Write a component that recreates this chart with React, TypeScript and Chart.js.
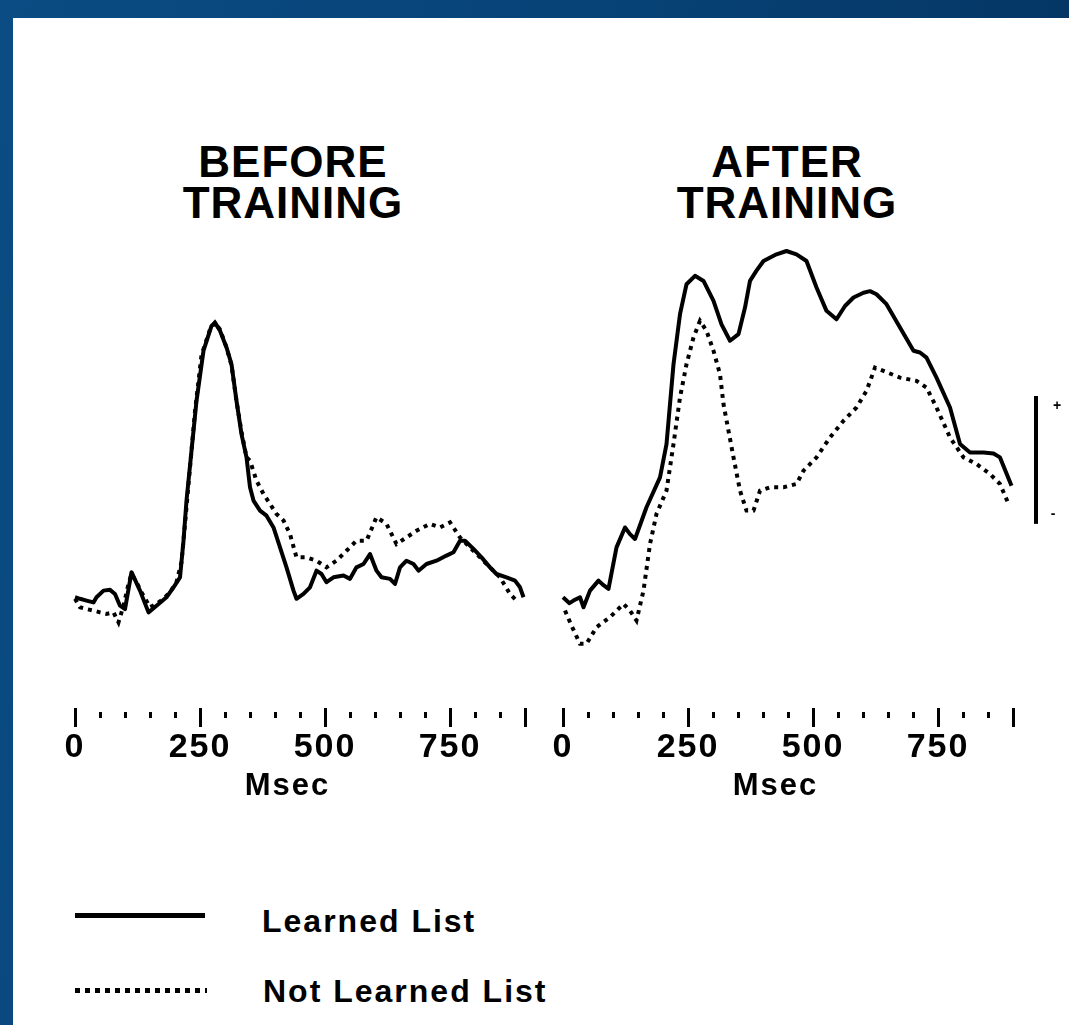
import React, { useEffect, useRef } from 'react';
import { Chart, registerables } from 'chart.js';

Chart.register(...registerables);

// ---- Data (time in ms, amplitude in µV; scale bar = 5 µV, positive up) ----
const tickTimes = [0, 50, 100, 150, 200, 250, 300, 350, 400, 450, 500, 550, 600, 650, 700, 750, 800, 850, 900];
const labeledTimes = [0, 250, 500, 750];
const majorTimes = [0, 250, 500, 750, 900];
const panelTitles = ['BEFORE\nTRAINING', 'AFTER\nTRAINING'];
const seriesLabels = ['Learned List', 'Not Learned List'];
const axisTitle = 'Msec';
const ampMin = -4.2;
const ampMax = 14.1;
const scaleBarRange = [3, 8];

const beforeLearned: [number, number][] = [
  [0, 0.13], [10, 0.07], [23, 0.0], [37, -0.07], [43, 0.13], [57, 0.39], [70, 0.42], [80, 0.26],
  [90, -0.2], [100, -0.33], [113, 1.11], [130, 0.39], [147, -0.46], [163, -0.2], [183, 0.13],
  [197, 0.52], [210, 0.91], [217, 2.34], [223, 3.91], [233, 5.86], [243, 7.81], [257, 9.77],
  [273, 10.74], [280, 10.87], [290, 10.55], [303, 9.9], [313, 9.24], [323, 7.81], [333, 6.51],
  [343, 5.6], [350, 4.43], [357, 3.91], [370, 3.52], [383, 3.32], [397, 2.86], [410, 2.08],
  [423, 1.3], [437, 0.39], [443, 0.07], [457, 0.26], [470, 0.52], [483, 1.17], [493, 1.04],
  [503, 0.72], [517, 0.91], [537, 0.98], [550, 0.85], [563, 1.3], [577, 1.43], [590, 1.82],
  [603, 1.17], [613, 0.91], [630, 0.85], [640, 0.65], [650, 1.3], [663, 1.56], [677, 1.43],
  [687, 1.17], [703, 1.43], [723, 1.56], [743, 1.76], [757, 1.89], [770, 2.34], [780, 2.34],
  [797, 2.02], [813, 1.69], [830, 1.3], [843, 1.04], [863, 0.91], [880, 0.78], [890, 0.52], [897, 0.13],
];

const beforeNotLearned: [number, number][] = [
  [0, 0.07], [10, -0.26], [23, -0.33], [37, -0.39], [50, -0.46], [63, -0.52], [77, -0.46], [87, -0.85],
  [97, -0.2], [107, 0.65], [113, 1.04], [123, 0.72], [133, 0.33], [150, -0.26], [163, -0.13],
  [177, 0.07], [190, 0.33], [203, 0.72], [213, 1.5], [220, 3.0], [230, 5.2], [240, 7.4], [253, 9.6],
  [270, 10.6], [280, 10.87], [290, 10.6], [303, 9.9], [313, 9.2], [323, 7.8], [333, 6.6], [343, 5.6],
  [350, 5.47], [363, 4.69], [377, 4.17], [390, 3.78], [403, 3.39], [417, 3.13], [430, 2.6],
  [443, 1.69], [463, 1.69], [483, 1.56], [503, 1.3], [523, 1.56], [543, 1.95], [563, 2.34],
  [583, 2.34], [603, 3.26], [623, 3.0], [643, 2.21], [663, 2.47], [683, 2.73], [710, 3.0],
  [730, 2.86], [750, 3.06], [770, 2.47], [790, 2.08], [810, 1.69], [830, 1.3], [850, 0.91],
  [870, 0.26], [883, 0.0],
];

const afterLearned: [number, number][] = [
  [0, 0.13], [13, -0.1], [21, 0.0], [34, 0.13], [41, -0.26], [54, 0.39], [71, 0.78], [81, 0.6],
  [91, 0.46], [107, 2.08], [124, 2.86], [134, 2.6], [144, 2.41], [167, 3.65], [194, 4.82],
  [207, 6.12], [221, 9.24], [234, 11.2], [247, 12.37], [264, 12.7], [281, 12.5], [301, 11.72],
  [317, 10.8], [334, 10.16], [351, 10.42], [364, 11.46], [374, 12.5], [387, 12.9], [401, 13.28],
  [427, 13.54], [447, 13.67], [467, 13.54], [487, 13.28], [507, 12.24], [527, 11.33], [547, 11.0],
  [564, 11.52], [581, 11.85], [601, 12.04], [614, 12.1], [627, 11.98], [647, 11.59], [674, 10.68],
  [701, 9.77], [714, 9.7], [727, 9.5], [747, 8.72], [774, 7.55], [794, 6.12], [814, 5.79],
  [841, 5.79], [861, 5.75], [874, 5.6], [897, 4.49],
];

const afterNotLearned: [number, number][] = [
  [4, -0.39], [17, -0.98], [34, -1.69], [47, -1.69], [67, -1.04], [94, -0.65], [121, -0.13],
  [134, -0.39], [147, -0.78], [161, 0.39], [174, 2.21], [187, 3.39], [207, 4.3], [221, 6.12],
  [234, 7.94], [247, 9.24], [261, 10.29], [274, 10.94], [287, 10.55], [301, 9.77], [314, 8.85],
  [321, 7.68], [331, 6.64], [341, 5.6], [354, 4.3], [367, 3.52], [381, 3.52], [394, 4.3],
  [414, 4.43], [441, 4.43], [467, 4.56], [481, 5.08], [507, 5.6], [534, 6.38], [561, 7.03],
  [587, 7.55], [607, 8.2], [624, 9.11], [641, 8.98], [674, 8.72], [707, 8.59], [727, 8.33],
  [747, 7.55], [774, 6.38], [801, 5.6], [827, 5.34], [854, 4.95], [874, 4.56], [891, 3.78],
];

const FONT = '"Liberation Sans", Arial, Helvetica, sans-serif';

const spacingPlugin = {
  id: 'letterSpacing',
  beforeDraw(chart: any) {
    try {
      chart.ctx.letterSpacing = '2px';
    } catch (e) {}
  },
};

const scaleBarPlugin = {
  id: 'scaleBar',
  afterDraw(chart: any) {
    const opts = chart.options.plugins.scaleBar;
    if (!opts || !opts.show) return;
    const { ctx, chartArea, scales } = chart;
    const x = chartArea.right + 23;
    const yTop = scales.y.getPixelForValue(scaleBarRange[1]);
    const yBot = scales.y.getPixelForValue(scaleBarRange[0]);
    ctx.save();
    ctx.strokeStyle = '#000';
    ctx.lineWidth = 4;
    ctx.beginPath();
    ctx.moveTo(x, yTop);
    ctx.lineTo(x, yBot);
    ctx.stroke();
    ctx.fillStyle = '#000';
    ctx.font = `bold 14px ${FONT}`;
    ctx.textAlign = 'center';
    ctx.textBaseline = 'middle';
    ctx.fillText('+', x + 22, yTop + 10);
    ctx.fillText('-', x + 18, yBot - 10);
    ctx.restore();
  },
};

function toPoints(arr: [number, number][]) {
  return arr.map(([x, y]) => ({ x, y }));
}

function Panel(props: {
  learned: [number, number][];
  notLearned: [number, number][];
  left: number;
  width: number;
  padRight: number;
  showScaleBar: boolean;
}) {
  const ref = useRef<HTMLCanvasElement | null>(null);
  useEffect(() => {
    if (!ref.current) return;
    const chart = new Chart(ref.current, {
      type: 'line',
      data: {
        datasets: [
          {
            label: seriesLabels[0],
            data: toPoints(props.learned),
            borderColor: '#000',
            borderWidth: 4,
            pointRadius: 0,
            tension: 0,
            borderJoinStyle: 'round',
            clip: false as any,
          },
          {
            label: seriesLabels[1],
            data: toPoints(props.notLearned),
            borderColor: '#000',
            borderWidth: 4,
            borderDash: [4, 5],
            borderCapStyle: 'butt',
            pointRadius: 0,
            tension: 0,
            clip: false as any,
          },
        ],
      },
      options: {
        animation: false,
        responsive: false,
        events: [],
        layout: { padding: { top: 10, right: props.padRight, bottom: 5, left: 0 } },
        plugins: {
          legend: { display: false },
          tooltip: { enabled: false },
          scaleBar: { show: props.showScaleBar },
        } as any,
        scales: {
          x: {
            type: 'linear',
            min: -50,
            max: 900,
            afterBuildTicks: (scale: any) => {
              scale.ticks = tickTimes.map((v) => ({ value: v }));
            },
            border: { display: false },
            grid: {
              display: true,
              drawOnChartArea: false,
              drawTicks: true,
              tickLength: 19,
              tickWidth: 3,
              tickColor: '#000',
              tickBorderDash: (ctx: any) =>
                majorTimes.includes(ctx.tick?.value) ? [] : [0, 4, 6, 100],
            } as any,
            ticks: {
              autoSkip: false,
              maxRotation: 0,
              padding: 0,
              color: '#000',
              font: { family: FONT, size: 34, weight: 'bold', lineHeight: 1.2 },
              callback: (v: any) => (labeledTimes.includes(Number(v)) ? String(v) : ''),
            },
            title: {
              display: true,
              text: axisTitle,
              color: '#000',
              padding: 0,
              font: { family: FONT, size: 31, weight: 'bold', lineHeight: 1.2 },
            },
          },
          y: {
            display: false,
            min: ampMin,
            max: ampMax,
          },
        },
      },
      plugins: [spacingPlugin, scaleBarPlugin],
    });
    return () => chart.destroy();
  }, []);
  return (
    <canvas
      ref={ref}
      width={props.width}
      height={580}
      style={{ position: 'absolute', left: props.left, top: 230, width: props.width, height: 580 }}
    />
  );
}

function Title({ text, center }: { text: string; center: number }) {
  return (
    <div
      style={{
        position: 'absolute',
        left: center - 160,
        width: 320,
        top: 141,
        textAlign: 'center',
        font: `bold 44px/41px ${FONT}`,
        letterSpacing: '1px',
        whiteSpace: 'pre',
        color: '#000',
      }}
    >
      {text}
    </div>
  );
}

export default function App() {
  return (
    <div
      style={{
        position: 'absolute',
        left: 0,
        top: 0,
        width: 1069,
        height: 1025,
        overflow: 'hidden',
        background: 'linear-gradient(100deg, #0a4c83 0%, #074276 50%, #04325e 100%)',
        fontFamily: FONT,
      }}
    >
      <div style={{ position: 'absolute', left: 13, top: 18, right: 0, bottom: 0, background: '#fff' }} />
      <Title text={panelTitles[0]} center={293} />
      <Title text={panelTitles[1]} center={787} />
      <Panel learned={beforeLearned} notLearned={beforeNotLearned} left={50} width={480} padRight={5} showScaleBar={false} />
      <Panel learned={afterLearned} notLearned={afterNotLearned} left={538} width={531} padRight={56} showScaleBar={true} />
      {/* Legend */}
      <div style={{ position: 'absolute', left: 75, top: 913, width: 130, height: 5, background: '#000' }} />
      <div
        style={{
          position: 'absolute',
          left: 75,
          top: 988,
          width: 132,
          height: 5,
          background: 'repeating-linear-gradient(to right, #000 0px, #000 5px, transparent 5px, transparent 10px)',
        }}
      />
      <div style={{ position: 'absolute', left: 262, top: 905, font: `bold 32px/32px ${FONT}`, letterSpacing: '2px', color: '#000', whiteSpace: 'pre' }}>
        {seriesLabels[0]}
      </div>
      <div style={{ position: 'absolute', left: 263, top: 975, font: `bold 32px/32px ${FONT}`, letterSpacing: '2px', color: '#000', whiteSpace: 'pre' }}>
        {seriesLabels[1]}
      </div>
    </div>
  );
}
